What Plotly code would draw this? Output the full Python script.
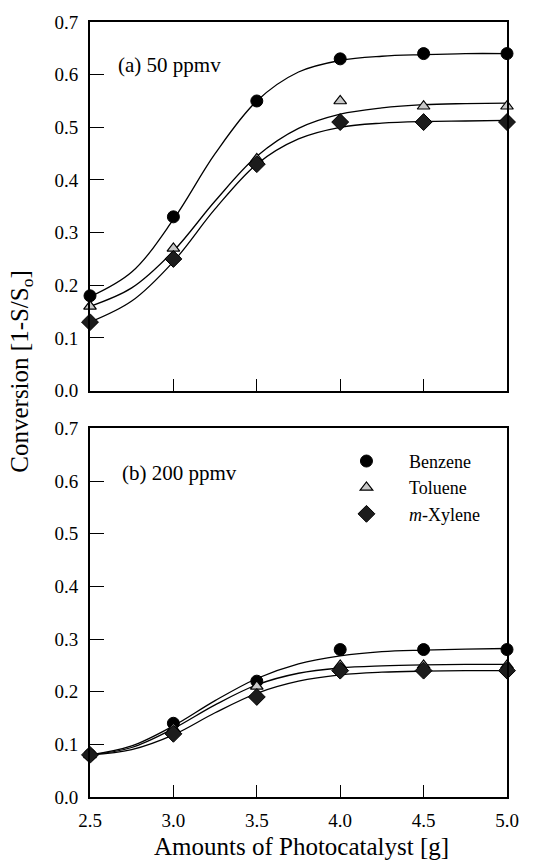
import plotly.graph_objects as go

# ---- data ----
amounts = [2.5, 3.0, 3.5, 4.0, 4.5, 5.0]

# (a) 50 ppmv measured points
a_benzene = [0.18, 0.33, 0.55, 0.63, 0.64, 0.64]
a_toluene = [0.16, 0.27, 0.44, 0.55, 0.54, 0.54]
a_xylene = [0.13, 0.25, 0.43, 0.51, 0.51, 0.51]

# (b) 200 ppmv measured points
b_benzene = [0.08, 0.14, 0.22, 0.28, 0.28, 0.28]
b_toluene = [0.08, 0.13, 0.21, 0.25, 0.25, 0.25]
b_xylene = [0.08, 0.12, 0.19, 0.24, 0.24, 0.24]

# fitted curves
curve_x = [2.5, 2.75, 3.0, 3.25, 3.5, 3.75, 4.0, 4.25, 4.5, 4.75, 5.0]
a_benzene_fit = [0.178, 0.225, 0.325, 0.45, 0.55, 0.605, 0.627, 0.635, 0.638, 0.64, 0.64]
a_toluene_fit = [0.16, 0.195, 0.265, 0.36, 0.445, 0.498, 0.525, 0.537, 0.543, 0.545, 0.546]
a_xylene_fit = [0.13, 0.17, 0.245, 0.345, 0.43, 0.478, 0.5, 0.508, 0.511, 0.512, 0.513]
b_benzene_fit = [0.08, 0.097, 0.135, 0.183, 0.225, 0.253, 0.268, 0.276, 0.279, 0.281, 0.282]
b_toluene_fit = [0.08, 0.094, 0.13, 0.175, 0.213, 0.235, 0.245, 0.249, 0.251, 0.252, 0.252]
b_xylene_fit = [0.08, 0.09, 0.118, 0.16, 0.197, 0.22, 0.232, 0.237, 0.239, 0.24, 0.24]

names = ["Benzene", "Toluene", "<i>m</i>-Xylene"]
y_ticks = [0.0, 0.1, 0.2, 0.3, 0.4, 0.5, 0.6, 0.7]
x_ticks = [2.5, 3.0, 3.5, 4.0, 4.5, 5.0]

FONT = "Liberation Serif, Times New Roman, serif"
NB = "\u00a0"

marker_styles = [
    dict(symbol="circle", size=12, color="black", line=dict(color="black", width=1)),
    dict(symbol="triangle-up", size=11, color="#c8c8c8", line=dict(color="black", width=1.2)),
    dict(symbol="diamond", size=13, color="#1c1c1c", line=dict(color="black", width=1)),
]

fig = go.Figure()

panels = [
    ("x", "y", [a_benzene, a_toluene, a_xylene], [a_benzene_fit, a_toluene_fit, a_xylene_fit], False),
    ("x2", "y2", [b_benzene, b_toluene, b_xylene], [b_benzene_fit, b_toluene_fit, b_xylene_fit], True),
]

for xa, ya, pts, fits, legend in panels:
    for fit in fits:
        fig.add_trace(go.Scatter(
            x=curve_x, y=fit, mode="lines", line=dict(color="black", width=1.3, shape="spline", smoothing=1.0),
            xaxis=xa, yaxis=ya, showlegend=False, hoverinfo="skip", cliponaxis=False))
    for name, vals, ms in zip(names, pts, marker_styles):
        fig.add_trace(go.Scatter(
            x=amounts, y=vals, mode="markers", marker=ms, name=NB * 5 + name,
            xaxis=xa, yaxis=ya, showlegend=legend, cliponaxis=False))

axis_common = dict(
    showline=True, linewidth=2, linecolor="black", mirror=True,
    ticks="inside", tickcolor="black", tickwidth=1.2,
    showgrid=False, zeroline=False,
    tickfont=dict(family=FONT, size=19, color="black"),
)

fig.update_layout(
    width=548, height=861,
    margin=dict(l=90, r=41, t=19, b=64),
    paper_bgcolor="white", plot_bgcolor="white",
    font=dict(family=FONT, color="black"),
    xaxis=dict(axis_common, domain=[0, 1], range=[2.5, 5.0], tickvals=x_ticks, showticklabels=False,
               ticklen=12, anchor="y"),
    yaxis=dict(axis_common, domain=[0.5244, 1.0], range=[0, 0.7], tickvals=y_ticks, tickformat=".1f",
               ticklen=14, ticklabelstandoff=6, anchor="x"),
    xaxis2=dict(axis_common, domain=[0, 1], range=[2.5, 5.0], tickvals=x_ticks, tickformat=".1f",
                ticklen=12, ticklabelstandoff=5, anchor="y2"),
    yaxis2=dict(axis_common, domain=[0.0, 0.4756], range=[0, 0.7], tickvals=y_ticks, tickformat=".1f",
                ticklen=14, ticklabelstandoff=6, anchor="x2"),
    legend=dict(x=0.615, y=0.457, xanchor="left", yanchor="top", bgcolor="rgba(0,0,0,0)",
                font=dict(family=FONT, size=18, color="black"), tracegroupgap=0),
    showlegend=True,
    annotations=[
        dict(text="(a) 50 ppmv", xref="paper", yref="paper", x=0.0624, y=0.9447,
             xanchor="left", yanchor="middle", showarrow=False, font=dict(family=FONT, size=21)),
        dict(text="(b) 200 ppmv", xref="paper", yref="paper", x=0.072, y=0.4177,
             xanchor="left", yanchor="middle", showarrow=False, font=dict(family=FONT, size=21)),
        dict(text="Conversion [1-S/S<sub>o</sub>]", xref="paper", yref="paper", x=-0.165, y=0.549,
             xanchor="center", yanchor="middle", textangle=-90, showarrow=False,
             font=dict(family=FONT, size=25)),
        dict(text="Amounts of Photocatalyst [g]", xref="paper", yref="paper", x=0.508, y=-0.0645,
             xanchor="center", yanchor="middle", showarrow=False, font=dict(family=FONT, size=25)),
    ],
)

fig.write_html("out.html", config={"displayModeBar": False},
               post_script="document.body.style.margin='0px';document.body.style.overflow='hidden';")
